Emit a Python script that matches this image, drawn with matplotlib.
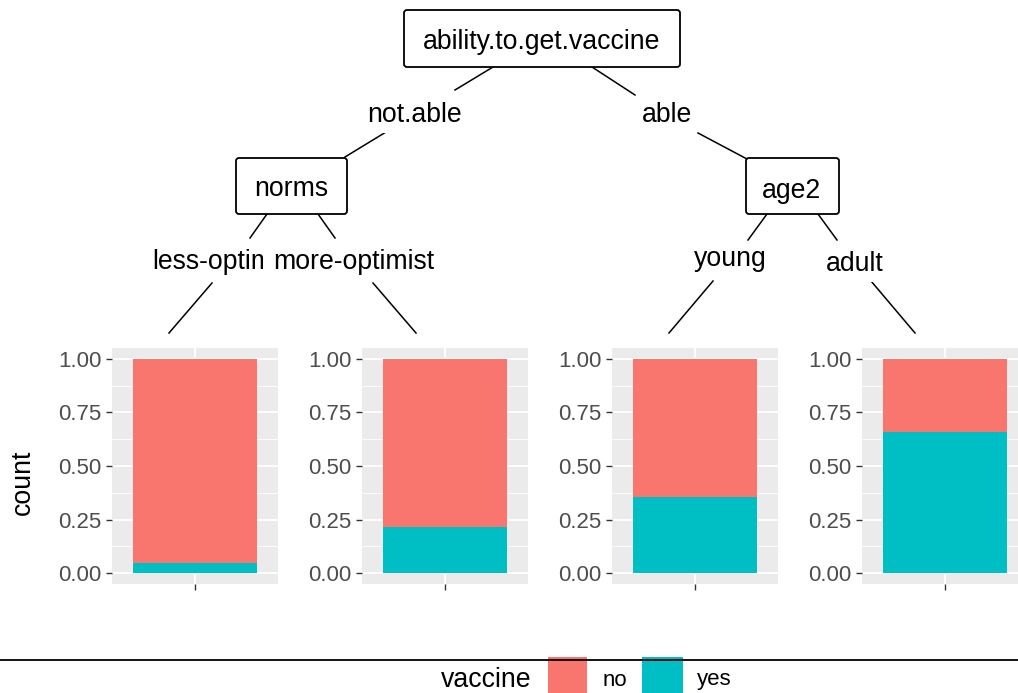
import matplotlib
matplotlib.use("Agg")
import matplotlib.pyplot as plt
from matplotlib.patches import FancyBboxPatch, Rectangle

plt.rcParams['font.family'] = ['Liberation Sans', 'DejaVu Sans']

# ---- data ----
leaf_names = ["less-optimist", "more-optimist", "young", "adult"]
share_yes = [0.047, 0.216, 0.357, 0.659]
share_no = [0.953, 0.784, 0.643, 0.341]
y_ticks = [0.00, 0.25, 0.50, 0.75, 1.00]
y_tick_labels = ["0.00", "0.25", "0.50", "0.75", "1.00"]
legend_title = "vaccine"
legend_labels = ["no", "yes"]
colors = {"no": "#F8766D", "yes": "#00BFC4"}

W, H = 1018, 693
fig = plt.figure(figsize=(W / 100, H / 100), dpi=100)

SMALL = 16
BASE = 19.2

# ---- leaf panels ----
panel_left = [112, 362, 612, 862]
panel_w = 166
panel_top, panel_bot = 348, 584
for i in range(4):
    ax = fig.add_axes([panel_left[i] / W, (H - panel_bot) / H, panel_w / W, (panel_bot - panel_top) / H])
    ax.set_facecolor("#EBEBEB")
    ax.bar([0], [share_yes[i]], width=0.9, color=colors["yes"], zorder=3)
    ax.bar([0], [share_no[i]], bottom=[share_yes[i]], width=0.9, color=colors["no"], zorder=3)
    ax.set_xlim(-0.6, 0.6)
    ax.set_ylim(-0.05, 1.05)
    ax.set_yticks(y_ticks)
    ax.set_yticklabels(y_tick_labels)
    ax.set_yticks([0.125, 0.375, 0.625, 0.875], minor=True)
    ax.set_xticks([0])
    ax.set_xticklabels([""])
    ax.grid(which="major", color="white", lw=1.3, zorder=1)
    ax.grid(which="minor", axis="y", color="white", lw=0.6, zorder=1)
    ax.tick_params(axis="y", which="major", labelsize=SMALL, labelcolor="#4D4D4D",
                   color="#333333", length=4.3, width=1.0, pad=3.4)
    ax.tick_params(axis="x", which="major", color="#333333", length=4.3, width=1.0)
    ax.tick_params(which="minor", length=0)
    for s in ax.spines.values():
        s.set_visible(False)
    ax.set_axisbelow(True)

# ---- tree overlay (pixel coordinates) ----
ov = fig.add_axes([0, 0, 1, 1])
ov.set_xlim(0, W)
ov.set_ylim(H, 0)
ov.axis("off")
ov.patch.set_alpha(0)

def node(x0, x1, y0, y1, text, tx, ty):
    ov.add_patch(FancyBboxPatch((x0, y0), x1 - x0, y1 - y0,
                                boxstyle="round,pad=0,rounding_size=3",
                                fc="white", ec="black", lw=1.3, zorder=5))
    ov.text(tx, ty, text, fontsize=BASE, ha="center", va="center", zorder=6)

node(404, 680, 10, 67, "ability.to.get.vaccine", 542, 42)
node(236, 347, 158, 214, "norms", 291, 189)
node(746, 839, 158, 214, "age2", 792, 191)

segs = [
    ((493, 67), (455, 90)), ((386, 132), (345, 157)),
    ((592, 67), (635, 95)), ((698, 133), (747, 159)),
    ((267, 214), (250, 238)), ((212, 283), (169, 333)),
    ((318, 214), (335, 238)), ((373, 283), (416, 333)),
    ((767, 214), (748, 240)), ((713, 281), (669, 333)),
    ((818, 214), (837, 240)), ((871, 281), (915, 333)),
]
for (a, b) in segs:
    ov.plot([a[0], b[0]], [a[1], b[1]], color="black", lw=1.1, zorder=2)

def edge_label(x, y, text, z):
    ov.text(x, y, text, fontsize=BASE, ha="center", va="center", zorder=z,
            bbox=dict(boxstyle="square,pad=0.2", fc="white", ec="none"))

edge_label(415, 115, "not.able", 7)
edge_label(667, 115, "able", 7)
edge_label(226, 262, leaf_names[0], 7)
# white padding of the overlapping "more-optimist" label
ov.add_patch(Rectangle((263, 249), 12, 27, fc="white", ec="none", zorder=7.5))
edge_label(354, 262, leaf_names[1], 8)
edge_label(730, 259, leaf_names[2], 7)
edge_label(855, 264, leaf_names[3], 7)

# y label
ov.text(23, 482, "count", fontsize=BASE, rotation=90, ha="center", va="center")

# ---- legend ----
ov.add_patch(Rectangle((548, 657), 39, 40, fc=colors["no"], ec="none", zorder=3))
ov.add_patch(Rectangle((642, 657), 41, 40, fc=colors["yes"], ec="none", zorder=3))
ov.plot([0, W], [660, 660], color="black", lw=1.3, zorder=4)
ov.text(486, 680, legend_title, fontsize=BASE, ha="center", va="center")
ov.text(615, 680, legend_labels[0], fontsize=SMALL, ha="center", va="center")
ov.text(714, 680, legend_labels[1], fontsize=SMALL, ha="center", va="center")

fig.savefig("out.png", dpi=100)
